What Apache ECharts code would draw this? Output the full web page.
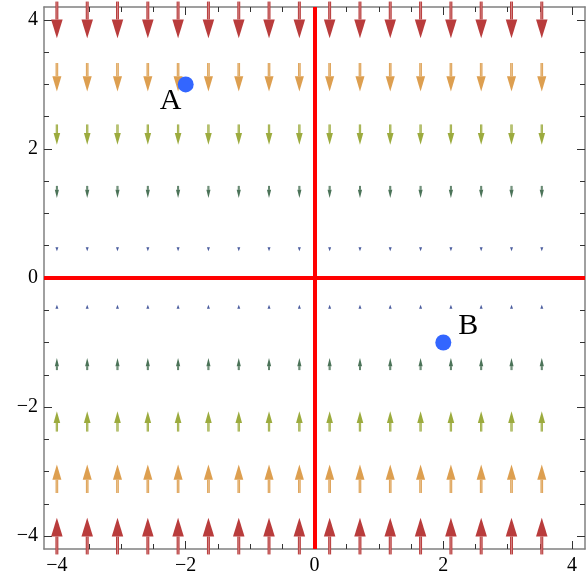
<!DOCTYPE html>
<html>
<head>
<meta charset="utf-8">
<script src="https://cdn.jsdelivr.net/npm/echarts@6/dist/echarts.min.js"></script>
<style>html,body{margin:0;padding:0;background:#fff}#c{width:587px;height:577px}</style>
</head>
<body>
<div id="c"></div>
<script>
// ---- data ----
const columnsX = [-4.000, -3.529, -3.059, -2.588, -2.118, -1.647, -1.176, -0.706, -0.235,
                  0.235, 0.706, 1.176, 1.647, 2.118, 2.588, 3.059, 3.529];
const rowsY = [4.000, 3.111, 2.222, 1.333, 0.444, -0.444, -1.333, -2.222, -3.111, -4.000];
const rowVy = [-4.0, -3.11, -2.22, -1.33, -0.44, 0.44, 1.33, 2.22, 3.11, 4.0]; // vertical component per row
const majorTicks = [-4, -2, 0, 2, 4];
const minorTicks = [-3.5, -3, -2.5, -1.5, -1, -0.5, 0.5, 1, 1.5, 2.5, 3, 3.5];
const pointNames = ['A', 'B'];
const pointX = [-2, 2];
const pointY = [3, -1];
const refLinesX = [0];
const refLinesY = [0];

// ---- styling ----
const FONT = '"Liberation Serif", "DejaVu Serif", serif';
const palette = [ // by magnitude threshold
  {max: 1.0, color: '#4a5c9e'},
  {max: 1.8, color: '#4b7358'},
  {max: 2.7, color: '#9cab3e'},
  {max: 3.6, color: '#dd9f50'},
  {max: 99, color: '#b93c3c'}
];
function colorFor(m){ for (const p of palette) if (m <= p.max) return p.color; return '#b93c3c'; }
const lenScale = 0.142; // data units of arrow length per unit of field
const labelOffsets = {A: [-15, 17], B: [25, -16]};

const arrowData = [];
rowsY.forEach((y, ri) => columnsX.forEach(x => arrowData.push([x, y, 0, rowVy[ri]])));

function fmt(v){ return String(v).replace('-', '\u2212'); }

function renderArrow(params, api){
  const x = api.value(0), y = api.value(1), vx = api.value(2), vy = api.value(3);
  const tail = api.coord([x - vx*lenScale/2, y - vy*lenScale/2]);
  const head = api.coord([x + vx*lenScale/2, y + vy*lenScale/2]);
  const dx = head[0]-tail[0], dy = head[1]-tail[1];
  const L = Math.sqrt(dx*dx+dy*dy);
  const ux = dx/L, uy = dy/L, px = -uy, py = ux;
  const mag = Math.sqrt(vx*vx+vy*vy);
  const col = colorFor(mag);
  const hl = Math.min(L, 0.43*L + 3);
  const hw = Math.max(3, 0.3*L + 0.5)/2;
  const bx = head[0]-ux*hl, by = head[1]-uy*hl;
  const sw = 1.5 + 0.04*L;
  return {
    type: 'group',
    children: [
      {type:'line', shape:{x1:tail[0], y1:tail[1], x2:bx, y2:by}, style:{stroke:col, lineWidth:sw}},
      {type:'line', shape:{x1:tail[0], y1:tail[1], x2:bx, y2:by}, style:{stroke:'rgba(255,255,255,0.35)', lineWidth:sw*0.35}},
      {type:'polygon', shape:{points:[[head[0],head[1]],[bx+px*hw, by+py*hw],[bx-px*hw, by-py*hw]]}, style:{fill:col}}
    ]
  };
}

function axisPair(dim, pos, withLabels){
  const base = {
    type:'value', min:-4.2, max:4.2, position:pos,
    splitLine:{show:false},
  };
  const major = Object.assign({}, base, {
    axisLine:{show:true, onZero:false, lineStyle:{color:'#808080', width:1.5}},
    axisTick:{show:true, inside:true, length:8, customValues:majorTicks, lineStyle:{color:'#333', width:1}},
    axisLabel:{show:withLabels, customValues:majorTicks, formatter:fmt, fontFamily:FONT, fontSize:20, color:'#000', margin: dim==='x' ? 7 : 6}
  });
  const minor = Object.assign({}, base, {
    axisLine:{show:false, onZero:false},
    axisTick:{show:true, inside:true, length:5, customValues:minorTicks, lineStyle:{color:'#333', width:1}},
    axisLabel:{show:false, customValues:minorTicks}
  });
  return [major, minor];
}

const chart = echarts.init(document.getElementById('c'), null, {renderer:'canvas'});
chart.setOption({
  animation:false,
  backgroundColor:'#fff',
  grid:{left:44, right:2, top:7, bottom:28, containLabel:false},
  xAxis:[...axisPair('x','bottom',true), ...axisPair('x','top',false)],
  yAxis:[...axisPair('y','left',true), ...axisPair('y','right',false)],
  series:[
    {
      type:'custom', xAxisIndex:0, yAxisIndex:0, clip:false,
      renderItem:renderArrow, data:arrowData, silent:true, z:2
    },
    {
      type:'line', xAxisIndex:0, yAxisIndex:0, data:[], z:3,
      markLine:{
        symbol:'none', silent:true, animation:false,
        lineStyle:{color:'#ff0000', width:4, type:'solid'},
        label:{show:false},
        data:[...refLinesX.map(v=>({xAxis:v})), ...refLinesY.map(v=>({yAxis:v}))]
      }
    },
    {
      type:'scatter', xAxisIndex:0, yAxisIndex:0, z:5,
      symbolSize:16,
      itemStyle:{color:'#3366ff', opacity:1},
      data: pointNames.map((n,i)=>({
        name:n, value:[pointX[i], pointY[i]],
        label:{show:true, position:'inside', offset:labelOffsets[n], formatter:'{b}', fontFamily:FONT, fontSize:30, color:'#000'}
      }))
    }
  ]
});
</script>
</body>
</html>
